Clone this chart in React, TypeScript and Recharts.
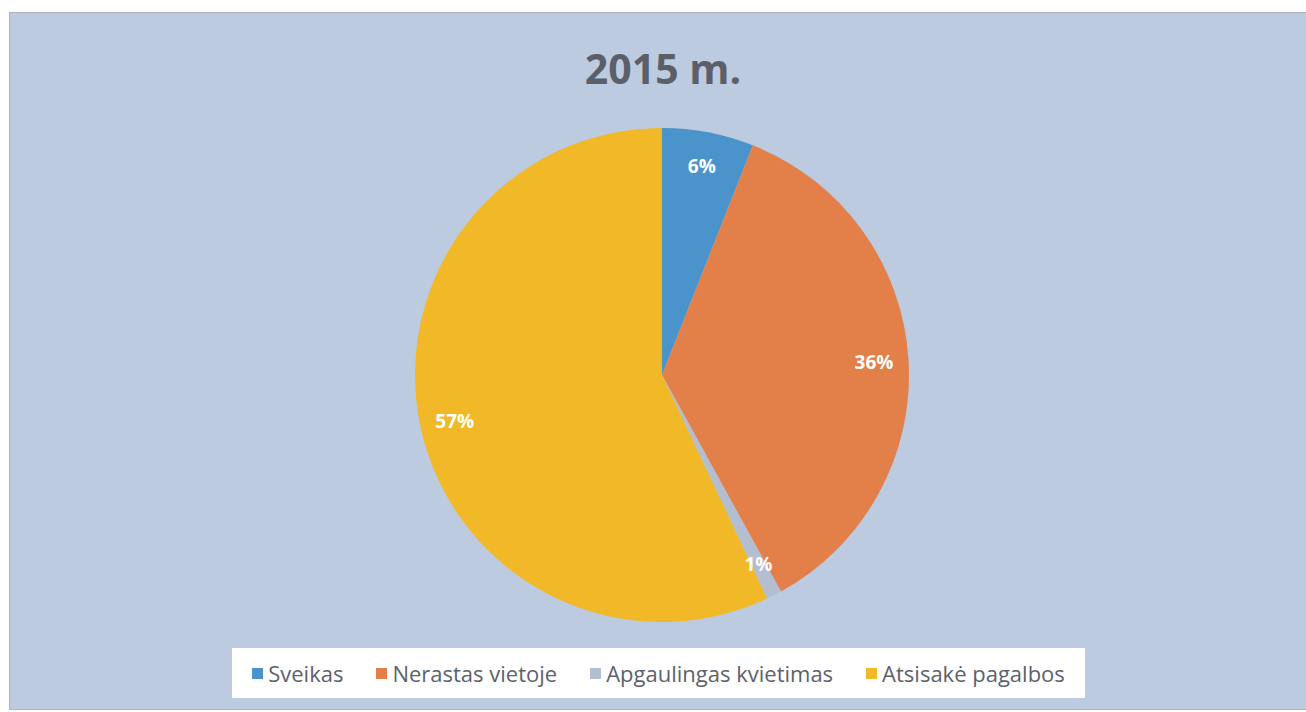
import { PieChart, Pie, Cell, Legend } from 'recharts';

// ─────────────────────────────────────────────
// 2015 m. – pie of call outcomes
// ─────────────────────────────────────────────

const categories = ['Sveikas', 'Nerastas vietoje', 'Apgaulingas kvietimas', 'Atsisakė pagalbos'];
const shares = [6, 36, 1, 57];
const colors = ['#4a93cb', '#e3804a', '#b3bed0', '#f1b827'];

const data = categories.map((name, i) => ({ name, value: shares[i], color: colors[i] }));

const RAD = Math.PI / 180;

function renderLabel(props: any) {
  const { cx, cy, midAngle, outerRadius, percent } = props;
  const r = outerRadius * 0.86;
  const x = cx + r * Math.cos(-midAngle * RAD);
  const y = cy + r * Math.sin(-midAngle * RAD);
  return (
    <text
      x={x}
      y={y}
      fill="#ffffff"
      textAnchor="middle"
      dominantBaseline="central"
      fontFamily="'Open Sans', sans-serif"
      fontWeight={700}
      fontSize={19}
    >
      {`${Math.round(percent * 100)}%`}
    </text>
  );
}

function LegendBox() {
  return (
    <div
      style={{
        background: '#ffffff',
        height: 50,
        display: 'flex',
        alignItems: 'center',
        justifyContent: 'center',
        gap: 33,
        fontFamily: "'Open Sans', sans-serif",
        fontSize: 22,
        color: '#5c626c',
      }}
    >
      {data.map((d) => (
        <div key={d.name} style={{ display: 'flex', alignItems: 'center', gap: 5 }}>
          <span style={{ width: 11, height: 11, background: d.color, display: 'inline-block' }} />
          <span>{d.name}</span>
        </div>
      ))}
    </div>
  );
}

export default function App() {
  return (
    <div style={{ position: 'absolute', left: 0, top: 0, width: 1306, height: 712, background: '#ffffff', overflow: 'hidden' }}>
      <div
        style={{
          position: 'absolute',
          left: 9,
          top: 12,
          width: 1297,
          height: 696,
          background: '#bccbe0',
          border: '1px solid #aeb3c0',
        }}
      />
      <div
        style={{
          position: 'absolute',
          left: 0,
          top: 40,
          width: 1326,
          textAlign: 'center',
          fontFamily: "'Open Sans', sans-serif",
          fontWeight: 700,
          fontSize: 41,
          color: '#5b5f68',
        }}
      >
        2015 m.
      </div>
      <div style={{ position: 'absolute', left: 0, top: 0 }}>
        <PieChart width={1306} height={712} margin={{ top: 0, right: 0, bottom: 0, left: 0 }}>
          <Pie
            data={data}
            dataKey="value"
            nameKey="name"
            cx={662}
            cy={375}
            outerRadius={247}
            startAngle={90}
            endAngle={-270}
            stroke="none"
            label={renderLabel}
            labelLine={false}
            isAnimationActive={false}
          >
            {data.map((d) => (
              <Cell key={d.name} fill={d.color} />
            ))}
          </Pie>
          <Legend
            content={() => <LegendBox />}
            wrapperStyle={{ position: 'absolute', left: 232, top: 648, width: 853, height: 50, bottom: 'auto' }}
          />
        </PieChart>
      </div>
    </div>
  );
}
